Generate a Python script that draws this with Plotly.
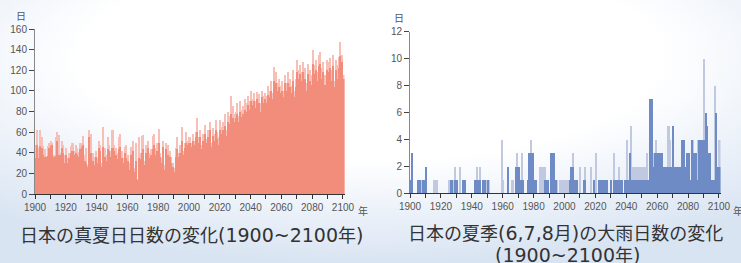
import base64
import plotly.graph_objects as go

years = list(range(1900, 2101))

# 真夏日日数 (peak and main layers)
heat_peak = [
    48, 62, 45, 62, 55, 47, 44, 37, 47, 50,
    52, 50, 38, 55, 60, 57, 40, 52, 48, 38,
    45, 35, 40, 47, 50, 42, 48, 45, 41, 50,
    50, 56, 38, 45, 28, 62, 58, 40, 36, 42,
    35, 52, 48, 30, 65, 45, 38, 55, 48, 42,
    62, 48, 45, 40, 55, 58, 42, 35, 46, 48,
    38, 30, 46, 52, 25, 50, 15, 55, 40, 56,
    57, 32, 48, 52, 40, 44, 56, 58, 45, 50,
    63, 40, 35, 52, 28, 50, 48, 42, 36, 30,
    25, 45, 55, 40, 48, 65, 42, 50, 60, 52,
    55, 50, 58, 52, 60, 74, 55, 62, 48, 58,
    67, 54, 62, 70, 50, 64, 58, 72, 60, 55,
    72, 65, 70, 78, 62, 80, 76, 95, 85, 78,
    80, 88, 76, 90, 82, 85, 92, 88, 95, 90,
    100, 92, 98, 90, 99, 97, 88, 100, 95, 98,
    95, 105, 100, 110, 98, 123, 118, 108, 112, 105,
    110, 100, 115, 108, 118, 112, 105, 120, 100, 112,
    130, 120, 125, 118, 128, 122, 108, 126, 120, 115,
    140, 125, 130, 118, 135, 138, 122, 128, 115, 130,
    128, 132, 120, 135, 110, 130, 125, 133, 147, 135,
    115,
]
heat_main = [
    35, 48, 35, 47, 45, 38, 36, 36, 37, 45,
    47, 48, 36, 37, 52, 38, 38, 45, 40, 30,
    38, 30, 35, 40, 42, 38, 40, 38, 36, 44,
    46, 48, 32, 30, 26, 55, 40, 32, 28, 36,
    30, 45, 42, 26, 46, 36, 32, 44, 42, 36,
    45, 42, 38, 34, 44, 46, 35, 30, 40, 35,
    32, 24, 38, 42, 22, 32, 14, 35, 34, 40,
    44, 28, 40, 45, 35, 38, 44, 48, 38, 42,
    50, 36, 30, 46, 24, 44, 38, 36, 30, 26,
    22, 36, 44, 36, 40, 52, 38, 45, 50, 48,
    50, 46, 52, 48, 55, 60, 50, 55, 44, 52,
    58, 50, 55, 62, 46, 56, 52, 62, 54, 48,
    62, 58, 62, 66, 56, 70, 68, 78, 74, 70,
    74, 78, 70, 80, 75, 78, 82, 80, 86, 82,
    90, 86, 90, 84, 92, 88, 80, 94, 88, 92,
    88, 96, 94, 100, 92, 110, 108, 100, 104, 98,
    100, 94, 108, 100, 108, 104, 98, 110, 94, 104,
    118, 112, 116, 110, 118, 112, 100, 116, 110, 106,
    126, 116, 120, 110, 124, 126, 112, 118, 106, 120,
    118, 122, 110, 124, 104, 120, 112, 122, 134, 128,
    112,
]

# 大雨日数 (peak and main layers)
rain_peak = [
    1, 3, 0, 0, 0, 1, 1, 1, 1, 1,
    2, 0, 0, 0, 0, 1, 1, 1, 0, 0,
    0, 0, 0, 0, 0, 1, 1, 1, 1, 2,
    1, 0, 2, 0, 1, 1, 0, 0, 0, 0,
    0, 0, 1, 2, 1, 2, 0, 1, 1, 1,
    1, 1, 0, 0, 0, 0, 0, 0, 0, 4,
    1, 0, 0, 2, 0, 0, 1, 0, 2, 3,
    2, 1, 3, 1, 0, 0, 1, 3, 4, 3,
    1, 1, 0, 0, 2, 2, 2, 2, 1, 1,
    0, 3, 3, 3, 1, 1, 0, 1, 1, 1,
    1, 1, 1, 1, 2, 3, 1, 1, 1, 0,
    2, 0, 1, 2, 0, 0, 0, 2, 0, 1,
    3, 0, 1, 1, 1, 1, 1, 1, 0, 0,
    1, 0, 3, 1, 1, 2, 1, 1, 0, 1,
    4, 1, 3, 5, 2, 2, 2, 2, 2, 2,
    2, 2, 2, 3, 1, 7, 7, 3, 3, 4,
    3, 3, 3, 3, 2, 2, 2, 5, 4, 2,
    5, 2, 2, 2, 2, 2, 4, 4, 2, 3,
    3, 1, 4, 4, 3, 3, 4, 4, 4, 4,
    10, 6, 5, 3, 3, 1, 1, 8, 6, 2,
    4,
]
rain_main = [
    1, 3, 0, 0, 0, 1, 1, 0, 1, 1,
    2, 0, 0, 0, 0, 0, 0, 0, 0, 0,
    0, 0, 0, 0, 0, 0, 1, 1, 0, 1,
    1, 0, 0, 0, 1, 1, 0, 0, 0, 0,
    0, 0, 1, 1, 1, 1, 0, 1, 1, 0,
    1, 0, 0, 0, 0, 0, 0, 0, 0, 0,
    0, 0, 0, 2, 0, 0, 0, 0, 2, 2,
    2, 1, 1, 1, 0, 0, 1, 3, 3, 3,
    1, 1, 0, 0, 0, 0, 0, 1, 1, 1,
    0, 3, 3, 3, 1, 0, 0, 0, 0, 0,
    0, 0, 0, 1, 2, 2, 1, 1, 1, 0,
    0, 0, 1, 1, 0, 0, 0, 0, 0, 1,
    0, 0, 1, 1, 1, 1, 1, 1, 0, 0,
    1, 0, 1, 1, 1, 1, 1, 1, 0, 1,
    1, 1, 3, 1, 1, 1, 1, 1, 1, 1,
    1, 1, 1, 1, 1, 7, 7, 2, 3, 3,
    3, 3, 3, 3, 2, 2, 2, 2, 2, 2,
    5, 2, 2, 2, 2, 2, 4, 4, 2, 3,
    3, 1, 4, 3, 3, 3, 1, 4, 4, 4,
    4, 6, 5, 3, 3, 1, 1, 1, 6, 2,
    2,
]

x_ticks = list(range(1900, 2101, 20))
x_minor = list(range(1910, 2100, 20))

W, H = 741, 263

svg = (
    '<svg xmlns="http://www.w3.org/2000/svg" width="741" height="263" '
    'viewBox="0 0 741 263" preserveAspectRatio="none">'
    '<defs><radialGradient id="g" cx="0.5" cy="0.22" r="0.78">'
    '<stop offset="0" stop-color="#ffffff"/>'
    '<stop offset="0.5" stop-color="#ffffff"/>'
    '<stop offset="0.8" stop-color="#e8eff8"/>'
    '<stop offset="1" stop-color="#d9e4f2"/>'
    '</radialGradient></defs>'
    '<rect width="741" height="263" fill="url(#g)"/></svg>'
)
bg = "data:image/svg+xml;base64," + base64.b64encode(svg.encode()).decode()

fig = go.Figure()
fig.add_bar(x=years, y=heat_peak, width=1, offset=0, marker_color="#f7bfb5",
            marker_line_width=0, xaxis="x", yaxis="y", hoverinfo="skip")
fig.add_bar(x=years, y=heat_main, width=1, offset=0, marker_color="#f28c7b",
            marker_line_width=0, xaxis="x", yaxis="y", hoverinfo="skip")
fig.add_bar(x=years, y=rain_peak, width=1, offset=0, marker_color="#c0c9df",
            marker_line_width=0, xaxis="x2", yaxis="y2", hoverinfo="skip")
fig.add_bar(x=years, y=rain_main, width=1, offset=0, marker_color="#6e8bc5",
            marker_line_width=0, xaxis="x2", yaxis="y2", hoverinfo="skip")

tickfont = dict(family="Liberation Sans, Arial, sans-serif", size=10, color="#555")

def xaxis_cfg(domain, anchor):
    return dict(domain=domain, anchor=anchor, range=[1900, 2101],
                tickvals=x_ticks, ticktext=[str(v) for v in x_ticks],
                ticks="outside", ticklen=4, tickcolor="#333", tickwidth=1,
                showline=True, linecolor="#333", linewidth=1,
                showgrid=False, zeroline=False, tickfont=tickfont,
                automargin=False,
                minor=dict(tickvals=x_minor, ticks="outside", ticklen=4,
                           tickcolor="#333", showgrid=False))

def yaxis_cfg(domain, anchor, rng, dtick):
    return dict(domain=domain, anchor=anchor, range=rng, dtick=dtick,
                ticks="outside", ticklen=5, tickcolor="#444", tickwidth=1,
                showline=True, linecolor="#888", linewidth=1,
                showgrid=False, zeroline=False, tickfont=tickfont,
                automargin=False)

cjk = "Noto Sans CJK JP"
num = "font-family:DejaVu Sans;font-size:19px"

def note(text, x, y, size, color):
    return dict(text=text, x=x / W, y=1 - y / H, xref="paper", yref="paper",
                xanchor="center", yanchor="middle", showarrow=False,
                font=dict(family=cjk, size=size, color=color))

title_left = ("日本の真夏日日数の変化"
              f"<span style='{num}'>(1900~2100</span>年<span style='{num}'>)</span>")
title_right1 = (f"日本の夏季<span style='{num}'>(6,7,8</span>月"
                f"<span style='{num}'>)</span>の大雨日数の変化")
title_right2 = f"<span style='{num}'>(1900~2100</span>年<span style='{num}'>)</span>"

fig.update_layout(
    width=W, height=H,
    margin=dict(l=0, r=0, t=0, b=0, pad=0, autoexpand=False),
    paper_bgcolor="white", plot_bgcolor="rgba(0,0,0,0)",
    barmode="overlay", bargap=0, showlegend=False,
    xaxis=xaxis_cfg([35 / W, 344.5 / W], "y"),
    yaxis=yaxis_cfg([(H - 194.3) / H, (H - 29) / H], "x", [0, 160], 20),
    xaxis2=xaxis_cfg([410 / W, 720.5 / W], "y2"),
    yaxis2=yaxis_cfg([(H - 193.3) / H, (H - 31.7) / H], "x2", [0, 12], 2),
    images=[dict(source=bg, xref="paper", yref="paper", x=0, y=1,
                 sizex=1, sizey=1, sizing="stretch", layer="below",
                 xanchor="left", yanchor="top")],
    annotations=[
        note("日", 21, 16, 10, "#555"),
        note("日", 399, 17, 10, "#555"),
        note("年", 363, 210, 10, "#555"),
        note("年", 738, 210, 10, "#555"),
        note(title_left, 191, 234, 18, "#333"),
        note(title_right1, 565, 232, 18, "#333"),
        note(title_right2, 567, 254, 18, "#333"),
    ],
)

fig.write_html("out.html",
               config={"displayModeBar": False},
               post_script="document.body.style.margin='0';"
                           "document.body.style.overflow='hidden';")
